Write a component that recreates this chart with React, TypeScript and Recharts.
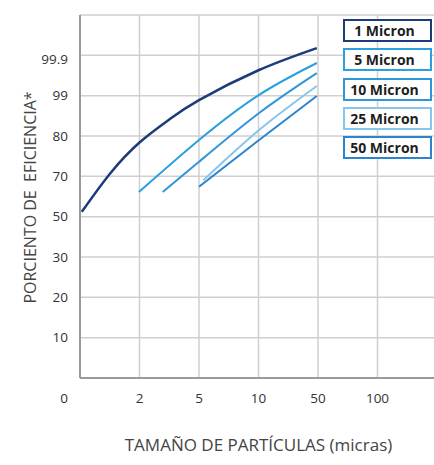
import React from "react";
import { CartesianGrid, Legend, Line, LineChart, XAxis, YAxis } from "recharts";

// The chart uses evenly spaced ordinal grids on both axes, so x/y values below
// are positions on those grids (x: 0..6 size steps, y: 0..9 efficiency steps).
const sizeLabels = ["0", "2", "5", "10", "50", "100", ""];
const efficiencyLabels = ["0", "10", "20", "30", "50", "70", "80", "99", "99.9", ""];

const micron1X = [0.03, 0.5, 1.0, 1.5, 2.0, 3.0, 3.98];
const micron1Y = [4.12, 5.06, 5.84, 6.41, 6.89, 7.63, 8.18];

const micron5X = [0.99, 2.0, 3.01, 3.98];
const micron5Y = [4.61, 5.9, 7.02, 7.81];

const micron10X = [1.39, 2.0, 3.01, 3.98];
const micron10Y = [4.61, 5.36, 6.57, 7.56];

const micron25X = [2.07, 3.01, 3.98];
const micron25Y = [4.9, 6.15, 7.24];

const micron50X = [2.0, 3.01, 3.98];
const micron50Y = [4.74, 5.9, 6.99];

const seriesNames = ["1 Micron", "5 Micron", "10 Micron", "25 Micron", "50 Micron"];
const seriesColors = ["#1c3c78", "#2aa0dc", "#2f96d8", "#86c5ec", "#2b84cf"];

const toPoints = (xs: number[], ys: number[]) => xs.map((x, i) => ({ x, y: ys[i] }));

const series = [
  toPoints(micron1X, micron1Y),
  toPoints(micron5X, micron5Y),
  toPoints(micron10X, micron10Y),
  toPoints(micron25X, micron25Y),
  toPoints(micron50X, micron50Y),
];

const FONT = "'Open Sans', 'DejaVu Sans', sans-serif";

function YTick(props: any) {
  const { x, y, payload } = props;
  const label = efficiencyLabels[payload.value];
  if (!label) return null;
  const dy = payload.value === 0 ? 20 : payload.value === 8 ? 4 : 0;
  return (
    <text x={x} y={y + dy} dy="0.35em" textAnchor="end" fill="#333" fontSize={13.5} fontFamily={FONT}>
      {label}
    </text>
  );
}

function XTick(props: any) {
  const { x, y, payload } = props;
  const label = payload.value === 0 ? "" : sizeLabels[payload.value];
  if (!label) return null;
  return (
    <text x={x} y={y} dy="0.71em" textAnchor="middle" fill="#333" fontSize={13.5} fontFamily={FONT}>
      {label}
    </text>
  );
}

function YTitle(props: any) {
  const { x, y, height } = props.viewBox;
  const cx = x + 30;
  const cy = y + height / 2 + 1;
  return (
    <text
      x={cx}
      y={cy}
      transform={`rotate(-90 ${cx} ${cy})`}
      textAnchor="middle"
      dominantBaseline="central"
      fill="#444"
      fontSize={16}
      fontFamily={FONT}
    >
      {"PORCIENTO DE\u00a0 EFICIENCIA*"}
    </text>
  );
}

function renderLegend(props: any) {
  const items = [...props.payload].sort(
    (a: any, b: any) => seriesNames.indexOf(a.value) - seriesNames.indexOf(b.value)
  );
  return (
    <div>
      {items.map((entry: any) => (
        <div
          key={entry.value}
          style={{
            boxSizing: "border-box",
            width: 89,
            height: 23,
            marginBottom: 6.3,
            border: `2.5px solid ${entry.color}`,
            background: "#fff",
            fontFamily: FONT,
            fontWeight: 700,
            fontSize: 14,
            color: "#1e1e1e",
            display: "flex",
            alignItems: "center",
            justifyContent: "center",
            paddingRight: 6,
          }}
        >
          {entry.value}
        </div>
      ))}
    </div>
  );
}

export default function App() {
  return (
    <div style={{ position: "absolute", left: 0, top: 0, width: 434, height: 465, overflow: "hidden", background: "#fff" }}>
      <LineChart width={440} height={465} margin={{ top: 15, right: 3, left: 0, bottom: 0 }}>
        <CartesianGrid stroke="#cfcfcf" strokeWidth={1.5} />
        <XAxis
          type="number"
          dataKey="x"
          domain={[0, 6]}
          ticks={[0, 1, 2, 3, 4, 5, 6]}
          height={87}
          tickSize={0}
          tickMargin={15}
          tickLine={false}
          axisLine={{ stroke: "#9a9a9a", strokeWidth: 2 }}
          tick={<XTick />}
          label={{
            value: "TAMAÑO DE PARTÍCULAS (micras)",
            position: "insideBottom",
            offset: 14,
            fill: "#444",
            fontSize: 17,
            fontFamily: FONT,
          }}
        />
        <YAxis
          type="number"
          dataKey="y"
          domain={[0, 9]}
          ticks={[0, 1, 2, 3, 4, 5, 6, 7, 8, 9]}
          width={80}
          tickSize={0}
          tickMargin={12}
          tickLine={false}
          axisLine={{ stroke: "#9a9a9a", strokeWidth: 2 }}
          tick={<YTick />}
          label={{ content: <YTitle /> }}
        />
        <Legend
          content={renderLegend}
          layout="vertical"
          align="center"
          verticalAlign="middle"
          wrapperStyle={{ position: "absolute", left: 343, top: 19, width: 90 }}
        />
        {series.map((data, i) => (
          <Line
            key={seriesNames[i]}
            data={data}
            dataKey="y"
            name={seriesNames[i]}
            type="natural"
            stroke={seriesColors[i]}
            strokeWidth={i === 0 ? 2.5 : 2}
            dot={false}
            isAnimationActive={false}
          />
        ))}
      </LineChart>
    </div>
  );
}
